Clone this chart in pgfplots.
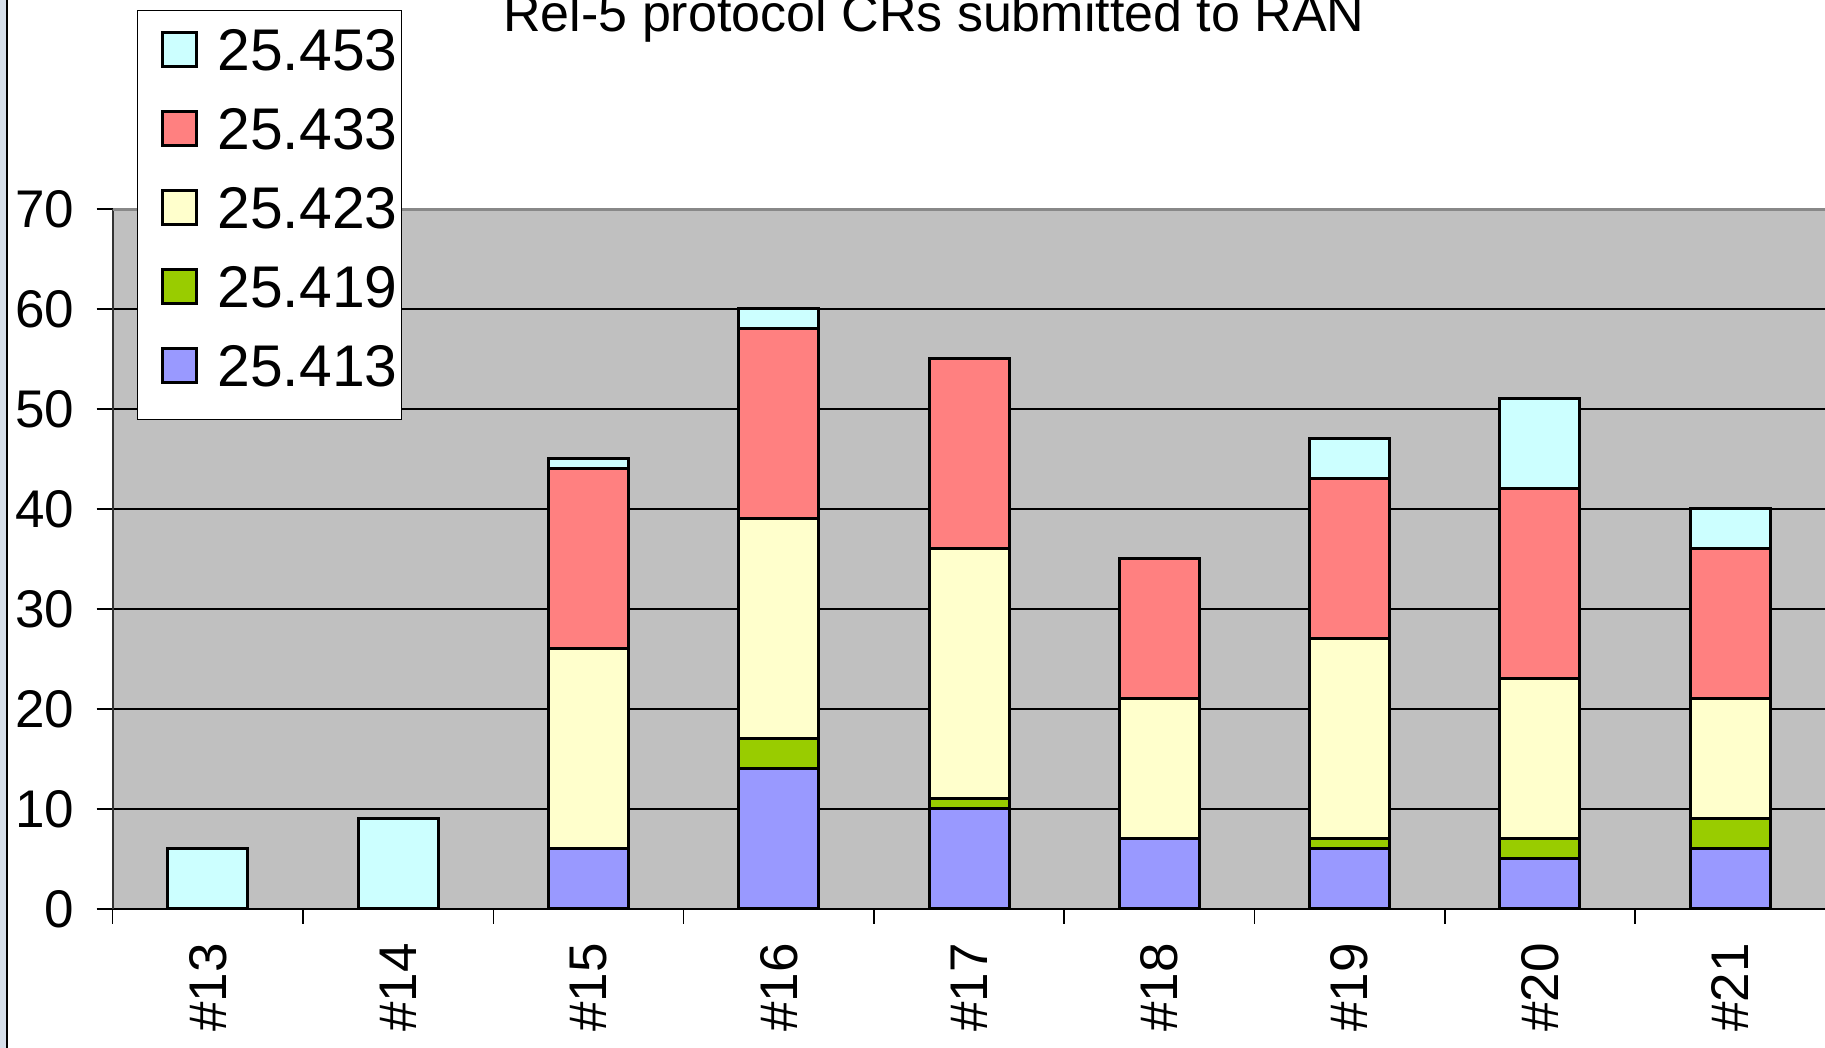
\documentclass[border=0pt]{standalone}
\usepackage{pgfplots}
\pgfplotsset{compat=1.18}
\usepackage{fontspec}
\setmainfont{Liberation Sans}
\definecolor{c453}{HTML}{CCFFFF}
\definecolor{c433}{HTML}{FF8080}
\definecolor{c423}{HTML}{FFFFCC}
\definecolor{c419}{HTML}{99CC00}
\definecolor{c413}{HTML}{9999FF}
\definecolor{plotbg}{HTML}{C0C0C0}
\definecolor{framebg}{HTML}{D6DFEA}
\definecolor{topframe}{HTML}{888888}
\begin{document}
\begin{tikzpicture}
\begin{scope}
\clip (0,0) rectangle (912.5pt,524pt);
\fill[framebg] (0,0) rectangle (3pt,524pt);
\draw[black, line width=1pt] (3.5pt,0) -- (3.5pt,524pt);
\node[anchor=base west, font=\fontsize{26}{30}\selectfont, inner sep=0pt] at (251.5pt,508.15pt) {Rel-5 protocol CRs submitted to RAN};
\begin{axis}[
  at={(56.35pt,69.5pt)}, anchor=south west,
  scale only axis, width=856.35pt, height=350pt,
  ybar stacked, bar width=40pt,
  xmin=-0.5, xmax=8.5, ymin=0, ymax=70,
  xtick={0,...,8},
  xticklabels={\#13,\#14,\#15,\#16,\#17,\#18,\#19,\#20,\#21},
  minor xtick={-0.5,0.5,...,8.5},
  ytick={0,10,...,70},
  tick align=outside,
  major tick length=8pt, minor tick length=7.5pt,
  major x tick style={draw=none},
  minor x tick style={black, line width=0.75pt},
  major y tick style={black, line width=0.75pt},
  ymajorgrids, major grid style={black, line width=0.6pt},
  axis background/.style={fill=plotbg},
  axis x line*=bottom, axis y line*=left,
  x axis line style={black, line width=0.9pt},
  y axis line style={black!80, line width=0.9pt},
  tick label style={font=\fontsize{26.5}{30}\selectfont},
  /pgf/number format/assume math mode=true,
  xticklabel style={rotate=90, anchor=east, inner sep=0pt, xshift=-9pt},
  yticklabel style={anchor=east, inner sep=0pt, xshift=-11pt},
  every axis plot/.append style={draw=black, line width=1.5pt},
  reverse legend,
  legend cell align=left,
  legend image code/.code={\path (0pt,0pt); \draw[#1, line width=1.5pt] (9.5pt,-4.75pt) rectangle (26.5pt,12.25pt);},
  legend style={
    at={(0.01419,1.2843)}, anchor=north west,
    draw=black, line width=0.6pt, fill=white,
    font=\fontsize{29.4}{30}\selectfont,
    inner xsep=2pt, inner ysep=9pt,
    row sep=11pt,
    nodes={inner sep=0pt, text height=21pt, text depth=7.5pt},
    /tikz/every odd column/.append style={column sep=10pt},
  },
]
\addplot[fill=c413] coordinates {(0,0) (1,0) (2,6) (3,14) (4,10) (5,7) (6,6) (7,5) (8,6)};
\addlegendentry{25.413}
\addplot[fill=c419] coordinates {(0,0) (1,0) (2,0) (3,3) (4,1) (5,0) (6,1) (7,2) (8,3)};
\addlegendentry{25.419}
\addplot[fill=c423] coordinates {(0,0) (1,0) (2,20) (3,22) (4,25) (5,14) (6,20) (7,16) (8,12)};
\addlegendentry{25.423}
\addplot[fill=c433] coordinates {(0,0) (1,0) (2,18) (3,19) (4,19) (5,14) (6,16) (7,19) (8,15)};
\addlegendentry{25.433}
\addplot[fill=c453] coordinates {(0,6) (1,9) (2,1) (3,2) (4,0) (5,0) (6,4) (7,9) (8,4)};
\addlegendentry{25.453}
\draw[topframe, line width=1.8pt] (rel axis cs:0,1) -- (rel axis cs:1,1);
\end{axis}
\end{scope}
\pgfresetboundingbox
\useasboundingbox (0,0) rectangle (912.5pt,524pt);
\end{tikzpicture}
\end{document}
